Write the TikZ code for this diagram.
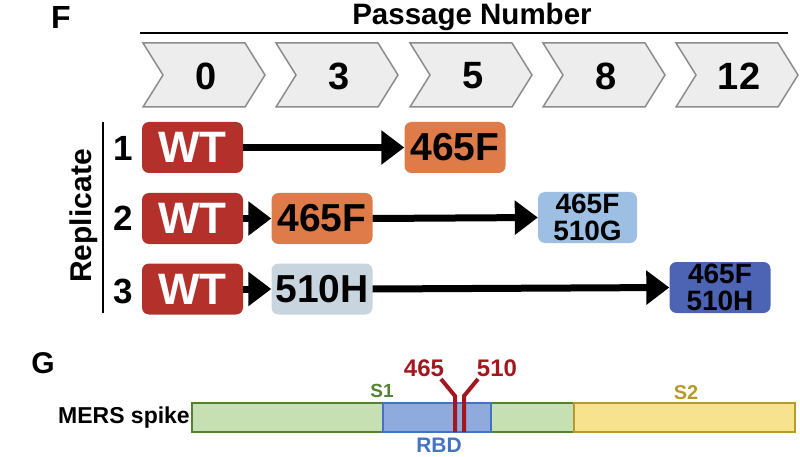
\documentclass[tikz,border=0pt]{standalone}
\usepackage{fontspec}
\setmainfont{Liberation Sans}
\usetikzlibrary{arrows.meta}
\definecolor{wtred}{HTML}{B3302B}
\definecolor{orng}{HTML}{DE7B48}
\definecolor{ltblue}{HTML}{9DBFE4}
\definecolor{gryblue}{HTML}{C8D5DF}
\definecolor{dkblue}{HTML}{4D63B3}
\definecolor{chevfill}{HTML}{EDEDED}
\definecolor{chevline}{HTML}{8C8C8C}
\definecolor{sgreen}{HTML}{C6E0B4}
\definecolor{sgreenl}{HTML}{548235}
\definecolor{sblue}{HTML}{8FAADC}
\definecolor{sbluel}{HTML}{4472C4}
\definecolor{syel}{HTML}{F7E38E}
\definecolor{syell}{HTML}{B89A2A}
\definecolor{mutred}{HTML}{A3171F}
\newcommand{\fs}[1]{\fontsize{#1}{#1}\selectfont\bfseries}
\tikzset{
  mbox/.style={rounded corners=7pt, minimum width=101pt, minimum height=51pt, inner sep=0pt, align=center},
  wtbox/.style={mbox, fill=wtred, text=white, font=\fs{44}},
  onebox/.style={mbox, font=\fs{39}},
  twobox/.style={mbox, font=\fontsize{28}{27}\selectfont\bfseries},
  lbl/.style={inner sep=0pt},
  bigarrow/.style={line width=7pt, -{Triangle[length=23pt,width=33pt]}},
  chev/.style={fill=chevfill, draw=chevline, line width=1.5pt, line join=miter},
  segm/.style={line width=2.5pt},
}
\begin{document}
\begin{tikzpicture}[x=1pt,y=-1pt]
\useasboundingbox (0,0) rectangle (800,457);
% Panel F
\node[lbl, font=\fs{32}] (F) at (61,17) {F};
\node[lbl, font=\fs{29.5}] (pn) at (472,17) {Passage Number};
\draw[line width=2pt] (140,33) -- (788,33);
\foreach \L/\t [count=\i] in {143/0,276/3,410/5,543/8,676/12}{
  \draw[chev] (\L,43) -- ++(102,0) -- ++(20,32) -- ++(-20,32) -- ++(-102,0) -- ++(20,-32) -- cycle;
  \node[lbl, font=\fs{38}] (p\i) at (\L+63,76) {\t};
}
\node[lbl, font=\fs{30}, rotate=90] (rep) at (84,216) {Replicate};
\draw[line width=2pt] (103,122) -- (103,313);
\node[lbl, font=\fs{35}] (r1) at (123,148) {1};
\node[lbl, font=\fs{35}] (r2) at (123,218) {2};
\node[lbl, font=\fs{35}] (r3) at (123,291) {3};
% Row 1
\node[wtbox] (wt1) at (192.5,147.5) {WT};
\node[onebox, fill=orng] (a1) at (455,147.5) {465F};
\draw[bigarrow] (wt1.east) -- (a1.west);
% Row 2
\node[wtbox] (wt2) at (192.5,218.5) {WT};
\node[onebox, fill=orng] (a2) at (322,218.5) {465F};
\node[twobox, fill=ltblue, minimum width=99pt] (b2) at (587.5,217.5) {465F\\510G};
\draw[bigarrow] (wt2.east) -- (a2.west);
\draw[bigarrow] (a2.east) -- (b2.west);
% Row 3
\node[wtbox] (wt3) at (192.5,289) {WT};
\node[onebox, fill=gryblue] (a3) at (322,289) {510H};
\node[twobox, fill=dkblue] (b3) at (720,287.5) {465F\\510H};
\draw[bigarrow] (wt3.east) -- (a3.west);
\draw[bigarrow] (a3.east) -- (b3.west);
% Panel G
\node[lbl, font=\fs{30}] (G) at (43,363) {G};
\node[lbl, font=\fs{23}, anchor=east] (ms) at (190,418) {MERS spike};
\draw[segm, fill=sgreen, draw=sgreenl] (192,403) rectangle (574,432);
\draw[segm, fill=sblue, draw=sbluel] (383,403) rectangle (491,432);
\draw[segm, fill=syel, draw=syell] (574,403) rectangle (795,432);
\node[lbl, font=\fs{19}, text=sgreenl] (s1) at (382,391) {S1};
\node[lbl, font=\fs{20}, text=syell] (s2) at (686,393) {S2};
\node[lbl, font=\fs{21}, text=sbluel] (rbd) at (439,445) {RBD};
\draw[mutred, line width=4pt, line join=miter] (455,432) -- (455,396) -- (441,379);
\draw[mutred, line width=4pt, line join=miter] (464,432) -- (464,396) -- (478,379);
\node[lbl, font=\fs{24}, text=mutred] (m465) at (424,368) {465};
\node[lbl, font=\fs{24}, text=mutred] (m510) at (497,368) {510};
\end{tikzpicture}
\end{document}
